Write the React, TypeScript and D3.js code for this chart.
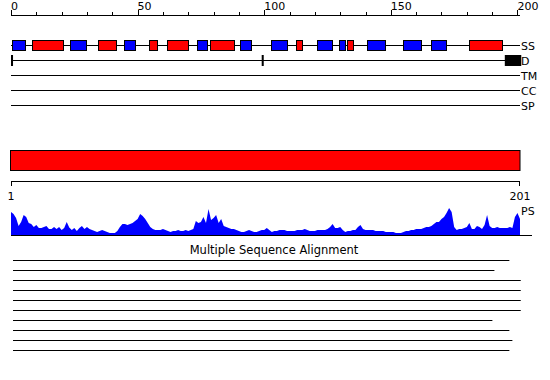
import React from "react";
import * as d3 from "d3";

const seqLength = 201;
const axisTicksMajor = [0, 50, 100, 150, 200];
const axisTicksMinor = d3.range(0, 201, 10);

const ssStart = [0.5, 8.4, 23.4, 34.5, 44.7, 54.6, 61.7, 73.6, 78.7, 90.6, 102.7, 112.6, 121.0, 129.5, 132.8, 140.7, 154.9, 166.0, 181.0];
const ssEnd = [5.8, 20.8, 29.9, 41.7, 48.9, 57.9, 69.8, 77.7, 88.0, 95.1, 108.9, 114.8, 127.1, 131.8, 135.0, 148.0, 162.2, 172.1, 194.2];
const ssType = ["E", "H", "E", "H", "E", "H", "H", "E", "H", "E", "E", "H", "E", "E", "H", "E", "E", "E", "H"];

const disoStart = [0, 99];
const disoEnd = [0.8, 99.8];
const disoBlockStart = [195.0];
const disoBlockEnd = [201.5];

const trackLabels = ["SS", "D", "TM", "CC", "SP"];

const domainStart = [0];
const domainEnd = [201];
const bottomLabels = ["1", "201"];

const psValues = [
  0.77, 0.70, 0.57, 0.30, 0.43, 0.67, 0.60, 0.40, 0.37, 0.27,
  0.33, 0.23, 0.23, 0.27, 0.30, 0.20, 0.20, 0.27, 0.20, 0.27,
  0.17, 0.23, 0.43, 0.25, 0.17, 0.23, 0.13, 0.23, 0.30, 0.20,
  0.27, 0.20, 0.17, 0.13, 0.10, 0.13, 0.17, 0.13, 0.10, 0.07,
  0.07, 0.07, 0.13, 0.27, 0.37, 0.37, 0.33, 0.37, 0.40, 0.47,
  0.53, 0.70, 0.63, 0.53, 0.40, 0.27, 0.20, 0.17, 0.17, 0.17,
  0.20, 0.17, 0.13, 0.10, 0.13, 0.13, 0.17, 0.13, 0.13, 0.17,
  0.13, 0.17, 0.20, 0.47, 0.40, 0.43, 0.60, 0.40, 0.87, 0.50,
  0.57, 0.67, 0.40, 0.53, 0.30, 0.27, 0.23, 0.20, 0.20, 0.17,
  0.13, 0.10, 0.10, 0.13, 0.17, 0.13, 0.10, 0.10, 0.13, 0.17,
  0.17, 0.23, 0.17, 0.10, 0.13, 0.13, 0.17, 0.17, 0.17, 0.13,
  0.13, 0.13, 0.13, 0.17, 0.17, 0.17, 0.20, 0.17, 0.13, 0.13,
  0.13, 0.17, 0.17, 0.17, 0.17, 0.20, 0.27, 0.37, 0.23, 0.23,
  0.27, 0.17, 0.10, 0.13, 0.13, 0.17, 0.17, 0.27, 0.33, 0.20,
  0.17, 0.17, 0.17, 0.17, 0.13, 0.13, 0.13, 0.13, 0.10, 0.10,
  0.10, 0.10, 0.07, 0.07, 0.07, 0.10, 0.13, 0.13, 0.17, 0.17,
  0.20, 0.20, 0.20, 0.23, 0.27, 0.27, 0.30, 0.37, 0.43, 0.43,
  0.53, 0.60, 0.73, 0.90, 0.77, 0.27, 0.17, 0.20, 0.20, 0.23,
  0.27, 0.40, 0.20, 0.20, 0.30, 0.27, 0.20, 0.33, 0.67, 0.30,
  0.23, 0.23, 0.27, 0.23, 0.23, 0.23, 0.23, 0.27, 0.23, 0.60,
  0.73, 0.53,
];

const msaTitle = "Multiple Sequence Alignment";
const msaStart = [0.8, 0.8, 0.8, 0.8, 0.8, 0.8, 0.8, 0.8, 0.8, 0.8];
const msaEnd = [196.8, 190.9, 201.3, 201.3, 201.3, 201.3, 190.1, 196.8, 198.0, 196.8];

const ssColor: Record<string, string> = { H: "#ff0000", E: "#0000ff" };
const FONT = "DejaVu Sans, sans-serif";

export default function App() {
  const W = 550;
  const H = 380;
  const x = d3.scaleLinear().domain([0, seqLength]).range([11, 520]);
  const trackY = d3.scalePoint<string>().domain(trackLabels).range([45, 105]);
  const psY = d3.scaleLinear().domain([0, 1]).range([235, 205]);
  const msaY = d3.scaleLinear().domain([0, 9]).range([260.5, 350.5]);

  const area = d3
    .area<number>()
    .x((_, i) => x(i))
    .y0(psY(0))
    .y1((d) => psY(d));

  const xEnd = x(seqLength);
  const xStart = x(0);

  return (
    <svg width={W} height={H} style={{ display: "block", position: "absolute", left: 0, top: 0 }}>
      <rect width={W} height={H} fill="#fff" />
      {/* top axis */}
      <line x1={xStart} x2={xEnd} y1={15.5} y2={15.5} stroke="#000" />
      {axisTicksMinor.map((t) => (
        <line key={t} x1={Math.round(x(t)) + 0.5} x2={Math.round(x(t)) + 0.5} y1={axisTicksMajor.includes(t) ? 10 : 12} y2={15.5} stroke="#000" />
      ))}
      {axisTicksMajor.map((t) => (
        <text key={t} x={x(t)} y={10} fontFamily={FONT} fontSize={11} fill="#000">
          {t}
        </text>
      ))}

      {/* track lines */}
      {trackLabels.map((l) => (
        <g key={l}>
          <line x1={xStart} x2={xEnd} y1={trackY(l)! + 0.5} y2={trackY(l)! + 0.5} stroke="#000" />
          <text x={521} y={trackY(l)! + 4.5} fontFamily={FONT} fontSize={11} fill="#000">
            {l}
          </text>
        </g>
      ))}

      {/* SS elements */}
      {ssStart.map((s, i) => (
        <rect
          key={i}
          x={Math.round(x(s)) + 0.5}
          y={40.5}
          width={Math.round(x(ssEnd[i]) - x(s))}
          height={10}
          fill={ssColor[ssType[i]]}
          stroke="#000"
        />
      ))}

      {/* disorder marks */}
      {disoStart.map((s, i) => (
        <rect key={i} x={x(s)} y={55} width={x(disoEnd[i]) - x(s)} height={11} fill="#000" />
      ))}
      {disoBlockStart.map((s, i) => (
        <rect key={i} x={x(s)} y={55} width={x(disoBlockEnd[i]) - x(s)} height={11} fill="#000" />
      ))}

      {/* domain bar */}
      {domainStart.map((s, i) => (
        <rect key={i} x={x(s) - 0.5} y={150.5} width={x(domainEnd[i]) - x(s) + 0.5} height={20} fill="#ff0000" stroke="#000" />
      ))}

      {/* bottom range axis */}
      <line x1={xStart} x2={xEnd} y1={181.5} y2={181.5} stroke="#000" />
      <line x1={xStart + 0.5} x2={xStart + 0.5} y1={181.5} y2={186} stroke="#000" />
      <line x1={xEnd - 0.5} x2={xEnd - 0.5} y1={181.5} y2={186} stroke="#000" />
      <text x={xStart} y={200} textAnchor="middle" fontFamily={FONT} fontSize={11} fill="#000">
        {bottomLabels[0]}
      </text>
      <text x={xEnd} y={200} textAnchor="middle" fontFamily={FONT} fontSize={11} fill="#000">
        {bottomLabels[1]}
      </text>

      {/* PS area */}
      <path d={area(psValues) || ""} fill="#0000ff" />
      <line x1={xStart} x2={532} y1={235.5} y2={235.5} stroke="#000" />
      <text x={521} y={215} fontFamily={FONT} fontSize={11} fill="#000">
        PS
      </text>

      {/* MSA */}
      <text x={274} y={254} textAnchor="middle" fontFamily={FONT} fontSize={11.5} fill="#000">
        {msaTitle}
      </text>
      {msaStart.map((s, i) => (
        <line key={i} x1={x(s)} x2={x(msaEnd[i])} y1={msaY(i)} y2={msaY(i)} stroke="#000" />
      ))}
    </svg>
  );
}
